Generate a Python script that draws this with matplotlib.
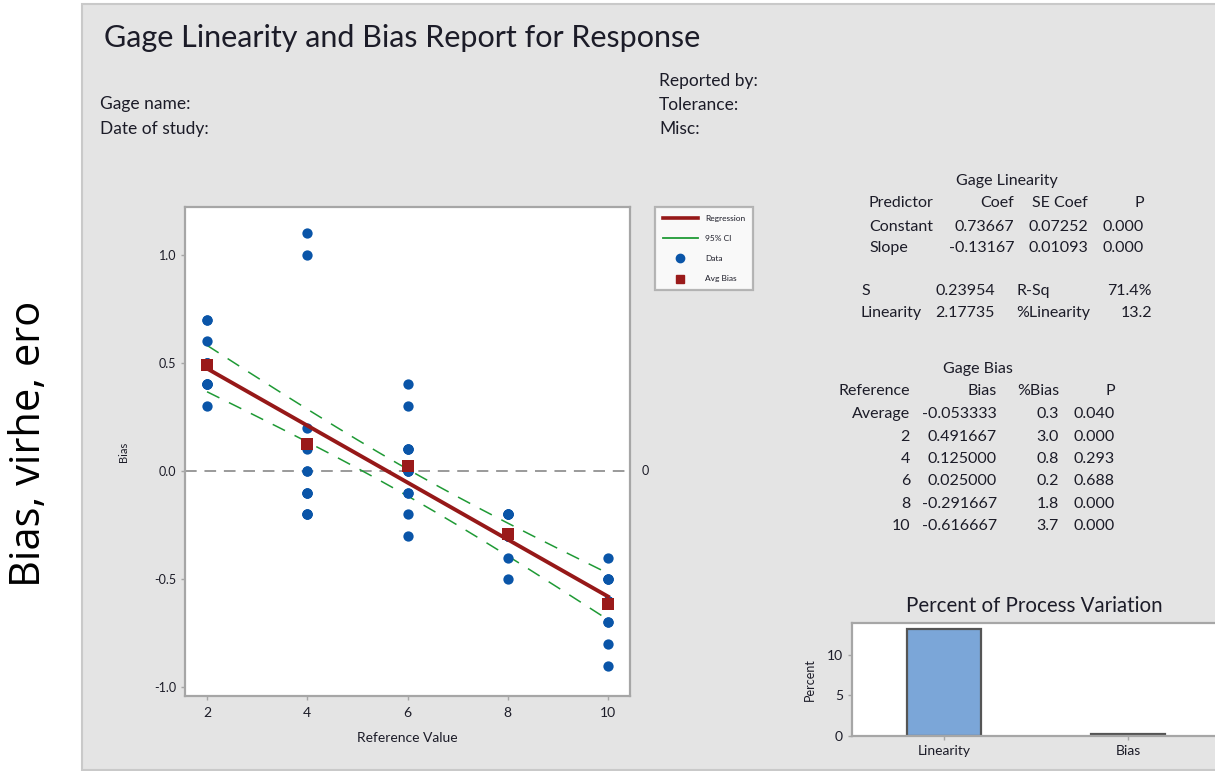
import numpy as np
import matplotlib
matplotlib.use("Agg")
import matplotlib.pyplot as plt
from matplotlib.patches import Rectangle
from matplotlib.lines import Line2D
import matplotlib.transforms as mtransforms

# ---------------- data ----------------
ref_levels = [2, 4, 6, 8, 10]
bias_ref2 = [0.7, 0.7, 0.5, 0.5, 0.5, 0.5, 0.4, 0.4, 0.4, 0.4, 0.3, 0.6]
bias_ref4 = [1.1, 1.0, 0.2, 0.1, 0.0, 0.0, -0.1, -0.1, -0.1, -0.2, -0.2, -0.2]
bias_ref6 = [0.4, 0.3, 0.1, 0.1, 0.1, 0.0, 0.0, 0.0, -0.1, -0.1, -0.2, -0.3]
bias_ref8 = [-0.2, -0.2, -0.2, -0.2, -0.3, -0.3, -0.3, -0.3, -0.3, -0.3, -0.4, -0.5]
bias_ref10 = [-0.4, -0.5, -0.5, -0.5, -0.6, -0.6, -0.6, -0.6, -0.7, -0.7, -0.8, -0.9]
avg_bias = [0.491667, 0.125000, 0.025000, -0.291667, -0.616667]

coef_constant = 0.73667
coef_slope = -0.13167
s_value = 0.23954
t_crit = 2.0017  # t(0.975, 58)

lin_header = ["Predictor", "Coef", "SE Coef", "P"]
lin_rows = [["Constant", "0.73667", "0.07252", "0.000"],
            ["Slope", "-0.13167", "0.01093", "0.000"]]
lin_stats = [["S", "0.23954", "R-Sq", "71.4%"],
             ["Linearity", "2.17735", "%Linearity", "13.2"]]

bias_header = ["Reference", "Bias", "%Bias", "P"]
bias_rows = [["Average", "-0.053333", "0.3", "0.040"],
             ["2", "0.491667", "3.0", "0.000"],
             ["4", "0.125000", "0.8", "0.293"],
             ["6", "0.025000", "0.2", "0.688"],
             ["8", "-0.291667", "1.8", "0.000"],
             ["10", "-0.616667", "3.7", "0.000"]]

pv_categories = ["Linearity", "Bias"]
pv_values = [13.2, 0.3]

# ---------------- figure ----------------
W, H = 1215, 771
plt.rcParams['font.family'] = ['Lato', 'DejaVu Sans']
fig = plt.figure(figsize=(W / 100, H / 100), dpi=100)
fig.patch.set_facecolor('white')

TXT = '#1c1c28'

def fx(px):
    return px / W

def fy(py):
    return 1 - py / H

def ax_rect(l, t, r, b):
    return [fx(l), fy(b), (r - l) / W, (b - t) / H]

# gray panel
fig.patches.append(Rectangle((fx(82), fy(770)), fx(1215) - fx(82) + 0.01, fy(4) - fy(770),
                             transform=fig.transFigure, facecolor='#e4e4e4',
                             edgecolor='#c9c9c9', lw=1.5, zorder=-10))

# left annotation
fig.text(fx(29), fy(444), "Bias, virhe, ero", rotation=90, ha='center', va='center',
         fontsize=30, family=['Open Sans', 'DejaVu Sans'], color='black')

# title and header
fig.text(fx(104), fy(38), "Gage Linearity and Bias Report for Response", ha='left', va='center',
         fontsize=22, color=TXT)
for txt, y in [("Gage name:", 104), ("Date of study:", 129)]:
    fig.text(fx(100), fy(y), txt, ha='left', va='center', fontsize=12.5, color=TXT)
for txt, y in [("Reported by:", 81), ("Tolerance:", 105), ("Misc:", 129)]:
    fig.text(fx(659), fy(y), txt, ha='left', va='center', fontsize=12.5, color=TXT)

# ---------------- main scatter axes ----------------
ax = fig.add_axes(ax_rect(185, 207, 630, 696))
ax.set_facecolor('white')
groups = [bias_ref2, bias_ref4, bias_ref6, bias_ref8, bias_ref10]
xs = np.concatenate([[r] * len(g) for r, g in zip(ref_levels, groups)])
ys = np.concatenate(groups)

ax.axhline(0, color='#9a9a9a', lw=1.4, ls=(0, (6, 4)), zorder=1)

n = len(xs)
xbar = xs.mean()
sxx = ((xs - xbar) ** 2).sum()
xline = np.linspace(min(ref_levels), max(ref_levels), 200)
fit = coef_constant + coef_slope * xline
half = t_crit * s_value * np.sqrt(1 / n + (xline - xbar) ** 2 / sxx)

ax.plot(xline, fit + half, color='#1f9a35', lw=1.1, ls=(0, (9, 7)), zorder=2)
ax.plot(xline, fit - half, color='#1f9a35', lw=1.1, ls=(0, (9, 7)), zorder=2)
ax.scatter(xs, ys, s=55, color='#0a55a8', zorder=3, linewidths=0)
ax.plot(xline, fit, color='#961818', lw=2.8, zorder=4)
ax.scatter(ref_levels, avg_bias, marker='s', s=75, color='#9a1a1a', zorder=5, linewidths=0)

ax.set_xlim(1.56, 10.44)
ax.set_ylim(-1.04, 1.22)
ax.set_xticks(ref_levels)
ax.set_yticks([-1.0, -0.5, 0.0, 0.5, 1.0])
ax.set_yticklabels(["-1.0", "-0.5", "0.0", "0.5", "1.0"])
for sp in ax.spines.values():
    sp.set_color('#a6a6a6')
    sp.set_linewidth(1.6)
ax.tick_params(axis='both', colors='#a6a6a6', labelcolor=TXT, length=3, width=1, labelsize=9)
ax.tick_params(axis='x', pad=5, labelsize=10)
ax.set_xlabel("Reference Value", fontsize=10, color=TXT, labelpad=9)
ax.set_ylabel("Bias", fontsize=8, color=TXT, labelpad=18)
trans = mtransforms.blended_transform_factory(ax.transAxes, ax.transData)
ax.text(1.025, 0, "0", transform=trans, ha='left', va='center', fontsize=9, color=TXT)

handles = [Line2D([], [], color='#961818', lw=2.6),
           Line2D([], [], color='#1f9a35', lw=1.3),
           Line2D([], [], marker='o', ls='none', color='#0a55a8', markersize=6),
           Line2D([], [], marker='s', ls='none', color='#9a1a1a', markersize=6)]
labels = ["Regression", "95% CI", "Data", "Avg Bias"]
leg = fig.legend(handles, labels, loc='upper left', bbox_to_anchor=(fx(655), fy(207)),
                 fontsize=6, frameon=True, fancybox=False, edgecolor='#a6a6a6',
                 handlelength=4.2, labelspacing=1.6, borderpad=0.9, handletextpad=0.9,
                 borderaxespad=0)
leg.get_frame().set_linewidth(1.6)
for t in leg.get_texts():
    t.set_color(TXT)

# ---------------- tables ----------------
tfs = 11.5
fig.text(fx(1007), fy(181), "Gage Linearity", ha='center', va='center', fontsize=tfs, color=TXT)
lin_cols = [(869, 'left'), (1014, 'right'), (1088, 'right'), (1144, 'right')]
for row, y in zip([lin_header] + lin_rows, [203, 227, 248]):
    for (x, ha), cell in zip(lin_cols, row):
        fig.text(fx(x), fy(y), cell, ha=ha, va='center', fontsize=tfs, color=TXT)
stat_cols = [(861, 'left'), (995, 'right'), (1016, 'left'), (1152, 'right')]
for row, y in zip(lin_stats, [291, 313]):
    for (x, ha), cell in zip(stat_cols, row):
        fig.text(fx(x), fy(y), cell, ha=ha, va='center', fontsize=tfs, color=TXT)

fig.text(fx(978), fy(369), "Gage Bias", ha='center', va='center', fontsize=tfs, color=TXT)
bias_cols = [(910, 'right'), (997, 'right'), (1059, 'right'), (1115, 'right')]
for row, y in zip([bias_header] + bias_rows, [391, 414, 437, 459, 481, 504, 526]):
    for (x, ha), cell in zip(bias_cols, row):
        fig.text(fx(x), fy(y), cell, ha=ha, va='center', fontsize=tfs, color=TXT)

# ---------------- percent of process variation ----------------
bx = fig.add_axes(ax_rect(852, 623, 1220, 736))
bx.set_facecolor('white')
bx.bar(range(len(pv_categories)), pv_values, width=0.4, color='#7ba6d8',
       edgecolor='#555555', linewidth=1.6)
bx.set_xlim(-0.5, 1.5)
bx.set_ylim(0, 13.9)
bx.set_xticks(range(len(pv_categories)))
bx.set_xticklabels(pv_categories)
bx.set_yticks([0, 5, 10])
for sp in bx.spines.values():
    sp.set_color('#a6a6a6')
    sp.set_linewidth(1.6)
bx.tick_params(axis='both', colors='#a6a6a6', labelcolor=TXT, length=3, width=1, labelsize=10)
bx.set_ylabel("Percent", fontsize=9, color=TXT, labelpad=8)
fig.text(fx(1034), fy(606), "Percent of Process Variation", ha='center', va='center',
         fontsize=14.8, color=TXT)

fig.savefig("out.png", dpi=100)
